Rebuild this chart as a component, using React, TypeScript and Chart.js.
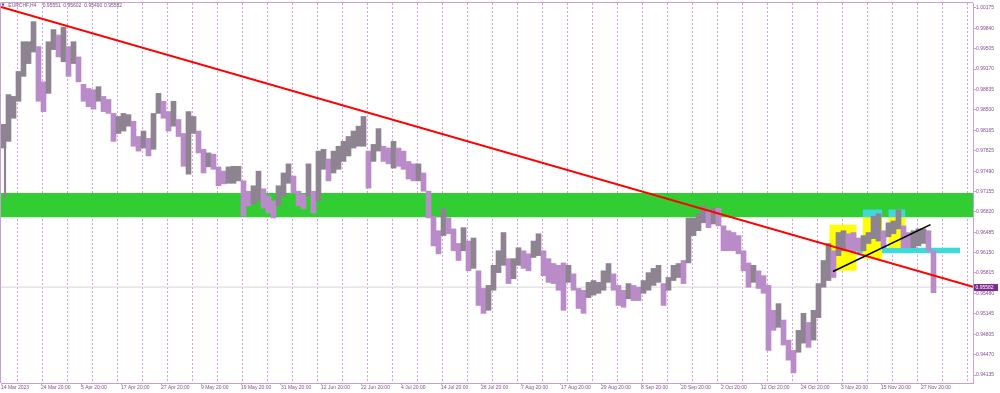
import React, { useEffect, useRef } from 'react';
import { Chart, registerables } from 'chart.js';

Chart.register(...registerables);

// ---- Data (EURCHF H4, grouped per trading day: daily high / low) ----
const highs = [
  0.9826, 0.9875, 0.9872, 0.9913, 0.9962, 0.9962, 0.9995, 0.9954, 0.9896, 0.9962,
  0.9982, 0.9973, 0.9986, 0.9954, 0.9962, 0.9937, 0.9892, 0.9885, 0.9883, 0.9888,
  0.9872, 0.9867, 0.9844, 0.9839, 0.9844, 0.9842, 0.9831, 0.9806, 0.9815, 0.9803,
  0.9844, 0.9877, 0.9864, 0.9847, 0.9864, 0.9834, 0.9811, 0.9847, 0.9839, 0.9815,
  0.9785, 0.9779, 0.9777, 0.9756, 0.9749, 0.9756, 0.9757, 0.9757, 0.9733, 0.9716,
  0.9725, 0.9749, 0.9720, 0.9708, 0.9700, 0.9725, 0.9746, 0.9761, 0.9741, 0.9716,
  0.9711, 0.9761, 0.9716, 0.9782, 0.9785, 0.9769, 0.9782, 0.9790, 0.9798, 0.9806,
  0.9815, 0.9823, 0.9839, 0.9782, 0.9793, 0.9819, 0.9790, 0.9787, 0.9798, 0.9787,
  0.9782, 0.9765, 0.9761, 0.9761, 0.9746, 0.9716, 0.9675, 0.9651, 0.9687, 0.9672,
  0.9654, 0.9630, 0.9656, 0.9634, 0.9639, 0.9585, 0.9556, 0.9561, 0.9594, 0.9618,
  0.9648, 0.9605, 0.9605, 0.9623, 0.9618, 0.9613, 0.9634, 0.9646, 0.9618, 0.9605,
  0.9597, 0.9594, 0.9598, 0.9594, 0.9580, 0.9556, 0.9553, 0.9566, 0.9569, 0.9566,
  0.9585, 0.9597, 0.9580, 0.9561, 0.9553, 0.9564, 0.9561, 0.9558, 0.9569, 0.9582,
  0.9589, 0.9594, 0.9564, 0.9574, 0.9594, 0.9597, 0.9602, 0.9672, 0.9672, 0.9679,
  0.9692, 0.9684, 0.9688, 0.9688, 0.9659, 0.9651, 0.9648, 0.9643, 0.9618, 0.9598,
  0.9594, 0.9585, 0.9577, 0.9561, 0.9520, 0.9531, 0.9504, 0.9471, 0.9454, 0.9487,
  0.9515, 0.9500, 0.9520, 0.9564, 0.9602, 0.9630, 0.9618, 0.9648, 0.9651, 0.9646,
  0.9648, 0.9639, 0.9643, 0.9648, 0.9675, 0.9679, 0.9651, 0.9664, 0.9667, 0.9685,
  0.9659, 0.9648, 0.9651, 0.9654, 0.9654, 0.9651, 0.9618,
];
const lows = [
  0.9787, 0.9798, 0.9836, 0.9864, 0.9905, 0.9926, 0.9945, 0.9864, 0.9847, 0.9877,
  0.9949, 0.9937, 0.9929, 0.9905, 0.9926, 0.9896, 0.9864, 0.9855, 0.9851, 0.9864,
  0.9847, 0.9844, 0.9798, 0.9811, 0.9815, 0.9823, 0.9790, 0.9782, 0.9787, 0.9774,
  0.9785, 0.9844, 0.9836, 0.9815, 0.9823, 0.9806, 0.9757, 0.9744, 0.9811, 0.9779,
  0.9746, 0.9756, 0.9752, 0.9725, 0.9728, 0.9729, 0.9729, 0.9733, 0.9675, 0.9692,
  0.9695, 0.9700, 0.9688, 0.9680, 0.9672, 0.9692, 0.9708, 0.9729, 0.9713, 0.9692,
  0.9687, 0.9708, 0.9680, 0.9700, 0.9752, 0.9733, 0.9746, 0.9752, 0.9765, 0.9774,
  0.9787, 0.9790, 0.9790, 0.9721, 0.9765, 0.9782, 0.9765, 0.9761, 0.9754, 0.9757,
  0.9752, 0.9736, 0.9733, 0.9733, 0.9716, 0.9672, 0.9626, 0.9613, 0.9643, 0.9646,
  0.9618, 0.9602, 0.9618, 0.9585, 0.9589, 0.9528, 0.9515, 0.9520, 0.9553, 0.9582,
  0.9594, 0.9564, 0.9572, 0.9594, 0.9589, 0.9585, 0.9607, 0.9610, 0.9577, 0.9566,
  0.9564, 0.9553, 0.9520, 0.9566, 0.9553, 0.9523, 0.9515, 0.9541, 0.9545, 0.9548,
  0.9553, 0.9566, 0.9553, 0.9528, 0.9525, 0.9539, 0.9536, 0.9536, 0.9548, 0.9553,
  0.9561, 0.9566, 0.9528, 0.9553, 0.9569, 0.9574, 0.9564, 0.9598, 0.9643, 0.9651,
  0.9664, 0.9656, 0.9662, 0.9659, 0.9618, 0.9618, 0.9618, 0.9613, 0.9585, 0.9558,
  0.9566, 0.9556, 0.9548, 0.9454, 0.9487, 0.9492, 0.9463, 0.9438, 0.9417, 0.9451,
  0.9466, 0.9459, 0.9471, 0.9508, 0.9558, 0.9569, 0.9574, 0.9610, 0.9618, 0.9618,
  0.9615, 0.9618, 0.9618, 0.9630, 0.9638, 0.9634, 0.9623, 0.9641, 0.9646, 0.9654,
  0.9623, 0.9623, 0.9623, 0.9626, 0.9630, 0.9618, 0.9549,
];
// single long wicks (x in trading days, high, low)
const spikeX = [0.3];
const spikeHigh = [0.9787];
const spikeLow = [0.9705];

const symbolName = 'EURCHF,H4';
const lastBar = [0.95551, 0.95602, 0.9549, 0.95582]; // open, high, low, close
const lastClose = 0.95582;

const yTickValues = [
  1.00175, 0.9984, 0.99505, 0.9917, 0.98835, 0.985, 0.98165, 0.97825, 0.9749, 0.97155,
  0.9682, 0.96485, 0.9615, 0.95815, 0.9548, 0.95145, 0.94805, 0.9447, 0.94135,
];
const xLabels = [
  '14 Mar 2023', '24 Mar 20:00', '5 Apr 20:00', '17 Apr 20:00', '27 Apr 20:00', '9 May 20:00',
  '19 May 20:00', '31 May 20:00', '12 Jun 20:00', '22 Jun 20:00', '4 Jul 20:00', '14 Jul 20:00',
  '26 Jul 20:00', '7 Aug 20:00', '17 Aug 20:00', '29 Aug 20:00', '8 Sep 20:00', '20 Sep 20:00',
  '2 Oct 20:00', '12 Oct 20:00', '24 Oct 20:00', '3 Nov 20:00', '15 Nov 20:00', '27 Nov 20:00',
];

// drawn objects (x in trading-day units, y in price)
const resistanceZone = [0.9713, 0.9673];
const mainTrendLine = [[-0.5, 1.0019], [193.9, 0.95586]];
const wedgeLine = [[165.9, 0.9584], [185.4, 0.9661]];
const yellowBoxes = [
  [165.16, 170.64, 0.9661, 0.9585],
  [171.84, 175.76, 0.9673, 0.9605],
  [176.96, 180.4, 0.9673, 0.9623],
];
const cyanBoxes = [
  [171.84, 175.76, 0.9686, 0.9673],
  [176.96, 180.4, 0.9686, 0.9673],
];
const cyanBar = [170.64, 191.3, 0.9623, 0.9614];

// ---- axis extents ----
const X_MIN = -0.5;
const X_MAX = 193.9;
const Y_MIN = 0.94004;
const Y_MAX = 1.00257;
const WEEK_START = 2.76;
const LABEL_STEP = 8;

const FRAME = '#c6a0d0';
const GRID = '#d89be3';
const TEXT = '#8a4a9a';
const UP = '#8e8491';
const DOWN = '#b98bc8';
const FONT = 'Liberation Sans';

export default function App() {
  const ref = useRef<HTMLCanvasElement | null>(null);

  useEffect(() => {
    if (!ref.current) return;
    const candleColors = highs.map((h, i) => {
      const mid = (h + lows[i]) / 2;
      const prev = i > 0 ? (highs[i - 1] + lows[i - 1]) / 2 : mid;
      return mid >= prev ? UP : DOWN;
    });

    const rect = (b: number[], color: string, order: number) => ({
      type: 'line' as const,
      data: [
        { x: b[0], y: b[2] },
        { x: b[1], y: b[2] },
      ],
      borderWidth: 0,
      borderColor: 'rgba(0,0,0,0)',
      backgroundColor: color,
      pointRadius: 0,
      fill: { value: b[3] },
      order,
    });

    const framePlugin = {
      id: 'frameAndPrice',
      afterDraw(chart: any) {
        const { ctx, chartArea: a, scales } = chart;
        ctx.save();
        ctx.strokeStyle = FRAME;
        ctx.lineWidth = 1;
        ctx.beginPath();
        ctx.moveTo(a.left - 0.5, a.bottom);
        ctx.lineTo(a.left - 0.5, a.top - 0.5);
        ctx.lineTo(a.right, a.top - 0.5);
        ctx.stroke();
        const y = Math.round(scales.y.getPixelForValue(lastClose));
        ctx.fillStyle = '#7b2d8e';
        ctx.fillRect(a.right + 1, y - 3, 24, 7);
        ctx.fillStyle = '#ffffff';
        ctx.font = `5px "${FONT}"`;
        ctx.textBaseline = 'middle';
        ctx.textAlign = 'left';
        ctx.fillText(lastClose.toFixed(5), a.right + 2.5, y + 0.5);
        ctx.restore();
      },
    };

    const chart = new Chart(ref.current, {
      type: 'bar',
      data: {
        datasets: [
          {
            type: 'line',
            data: wedgeLine.map((p) => ({ x: p[0], y: p[1] })),
            borderColor: '#000000',
            borderWidth: 1.6,
            pointRadius: 0,
            order: 0,
          },
          {
            type: 'line',
            data: mainTrendLine.map((p) => ({ x: p[0], y: p[1] })),
            borderColor: '#ff0000',
            borderWidth: 2,
            pointRadius: 0,
            order: 1,
          },
          {
            type: 'bar',
            data: highs.map((h, i) => ({ x: i, y: [lows[i], h] })),
            backgroundColor: candleColors,
            borderWidth: 0,
            barThickness: 5,
            order: 2,
          } as any,
          {
            type: 'bar',
            data: spikeX.map((x, i) => ({ x, y: [spikeLow[i], spikeHigh[i]] })),
            backgroundColor: UP,
            borderWidth: 0,
            barThickness: 1.5,
            grouped: false,
            order: 2,
          } as any,
          {
            type: 'line',
            data: [
              { x: X_MIN, y: lastClose },
              { x: X_MAX, y: lastClose },
            ],
            borderColor: '#d6d6d6',
            borderWidth: 1,
            pointRadius: 0,
            order: 3,
          },
          ...cyanBoxes.map((b) => rect(b, '#40d8d8', 4)),
          ...yellowBoxes.map((b) => rect(b, '#ffff00', 5)),
          rect(cyanBar, '#40d8d8', 6),
          rect([X_MIN, X_MAX, resistanceZone[0], resistanceZone[1]], '#32cd32', 7),
        ] as any,
      },
      options: {
        responsive: false,
        animation: false,
        devicePixelRatio: 1,
        events: [],
        layout: { padding: { left: 1, top: 1, right: 0, bottom: 0 } },
        plugins: {
          legend: { display: false },
          tooltip: { enabled: false },
          title: { display: false },
        },
        scales: {
          x: {
            type: 'linear',
            min: X_MIN,
            max: X_MAX,
            offset: false,
            afterBuildTicks: (scale: any) => {
              const t: any[] = [];
              for (let k = 0; WEEK_START + 5 * k < X_MAX; k++) t.push({ value: WEEK_START + 5 * k, kind: 'g' });
              xLabels.forEach((l, i) => t.push({ value: X_MIN + LABEL_STEP * i, kind: 'l', lbl: l }));
              t.sort((a, b) => a.value - b.value);
              scale.ticks = t;
            },
            afterFit: (scale: any) => {
              scale.height = 10;
            },
            grid: {
              offset: false,
              drawOnChartArea: true,
              drawTicks: true,
              tickLength: 2,
              lineWidth: 1,
              color: (ctx: any) => (ctx.tick && ctx.tick.kind === 'g' ? GRID : 'rgba(0,0,0,0)'),
              tickColor: (ctx: any) => (ctx.tick && ctx.tick.kind === 'l' ? FRAME : 'rgba(0,0,0,0)'),
            },
            border: { display: true, color: FRAME, width: 1, dash: [2, 2] },
            ticks: {
              autoSkip: false,
              maxRotation: 0,
              minRotation: 0,
              align: 'start',
              padding: 0,
              color: TEXT,
              font: { family: FONT, size: 5 },
              callback: (_v: any, i: number, ticks: any[]) => (ticks[i].kind === 'l' ? ticks[i].lbl : ''),
            },
          },
          y: {
            type: 'linear',
            position: 'right',
            min: Y_MIN,
            max: Y_MAX,
            afterBuildTicks: (scale: any) => {
              scale.ticks = yTickValues.map((v) => ({ value: v }));
            },
            afterFit: (scale: any) => {
              scale.width = 27;
            },
            grid: {
              drawOnChartArea: false,
              drawTicks: true,
              tickLength: 3,
              tickColor: FRAME,
            },
            border: { display: true, color: FRAME, width: 1 },
            ticks: {
              padding: 0,
              color: TEXT,
              font: { family: FONT, size: 5 },
              callback: (v: any) => Number(v).toFixed(5),
            },
          },
        },
      } as any,
      plugins: [framePlugin],
    });
    return () => chart.destroy();
  }, []);

  const headerStyle: React.CSSProperties = {
    position: 'absolute',
    top: 1.5,
    fontFamily: FONT,
    fontSize: 5,
    lineHeight: '6px',
    color: '#7a4d88',
    whiteSpace: 'pre',
  };
  const headerX = [8.3, 42.7, 63.3, 84.3, 104];

  return (
    <div style={{ position: 'absolute', left: 0, top: 0, width: 1000, height: 393, background: '#ffffff', overflow: 'hidden' }}>
      <canvas ref={ref} width={1000} height={393} style={{ display: 'block' }} />
      <span style={{ ...headerStyle, left: 1.5, top: 1.5, fontFamily: 'DejaVu Sans', fontSize: 4, color: '#6a3a7a' }}>▼</span>
      <span style={{ ...headerStyle, left: headerX[0] }}>{symbolName}</span>
      {lastBar.map((v, i) => (
        <span key={i} style={{ ...headerStyle, left: headerX[i + 1] }}>
          {v.toFixed(5)}
        </span>
      ))}
    </div>
  );
}
